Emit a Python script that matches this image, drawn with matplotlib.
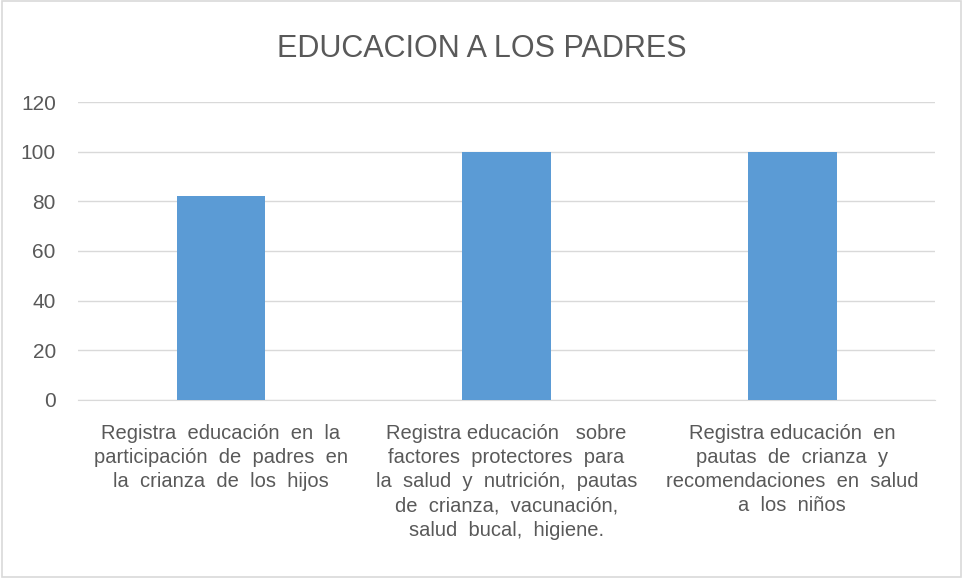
import matplotlib
matplotlib.use("Agg")
import matplotlib.pyplot as plt
from matplotlib.patches import Rectangle

plt.rcParams['font.family'] = ['Liberation Sans', 'DejaVu Sans']

title = "EDUCACION A LOS PADRES"
categories = [
    "Registra  educación  en  la\nparticipación  de  padres  en\nla  crianza  de  los  hijos",
    "Registra educación   sobre\nfactores  protectores  para\nla  salud  y  nutrición,  pautas\nde  crianza,  vacunación,\nsalud  bucal,  higiene.",
    "Registra educación  en\npautas  de  crianza  y\nrecomendaciones  en  salud\na  los  niños",
]
values = [82, 100, 100]
yticks = [0, 20, 40, 60, 80, 100, 120]

fig = plt.figure(figsize=(9.63, 5.78), dpi=100)
ax = fig.add_axes([0.081, 0.308, 0.890, 0.5155])
fig.patches.append(Rectangle((0.002, 0.002), 0.996, 0.996, transform=fig.transFigure,
                             fill=False, edgecolor='#d9d9d9', linewidth=1.2))

x = range(len(categories))
ax.bar(x, values, width=0.31, color='#5b9bd5', zorder=3)
ax.set_xlim(-0.5, len(categories) - 0.5)
ax.set_ylim(0, 120)
ax.set_yticks(yticks)
ax.set_yticklabels([str(v) for v in yticks], fontsize=15, color='#595959')
ax.set_xticks(list(x))
ax.set_xticklabels(categories, fontsize=14.5, color='#595959', linespacing=1.35, va='top')
ax.tick_params(axis='both', length=0)
ax.tick_params(axis='x', pad=17)
ax.tick_params(axis='y', pad=16)
ax.grid(axis='y', color='#d9d9d9', linewidth=1, zorder=0)
for s in ['top', 'right', 'left']:
    ax.spines[s].set_visible(False)
ax.spines['bottom'].set_color('#d9d9d9')
fig.text(0.5, 0.915, title, ha='center', va='center', fontsize=22, color='#595959')

fig.savefig("out.png", dpi=100)
